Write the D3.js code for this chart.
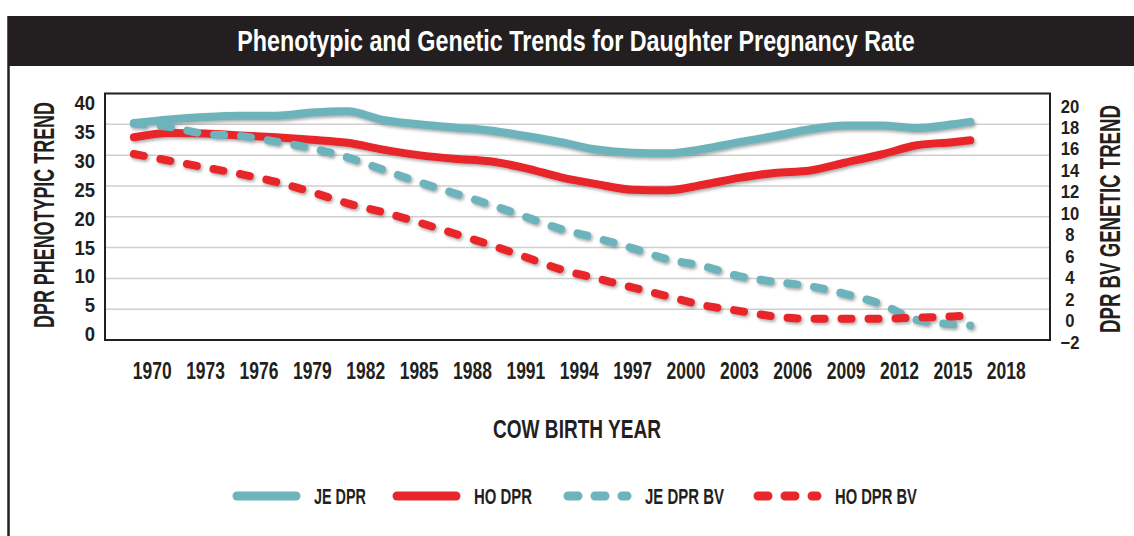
<!DOCTYPE html>
<html>
<head>
<meta charset="utf-8">
<script src="https://cdn.jsdelivr.net/npm/d3@7"></script>
<style>
  html, body { margin: 0; padding: 0; background: #ffffff; }
  svg { display: block; }
  text { font-family: "Liberation Sans", Arial, sans-serif; font-weight: bold; fill: #231f20; }
</style>
</head>
<body>
<svg id="chart" width="1134" height="536"></svg>
<script>
// ---------- DATA ----------
const years = [1969, 1971, 1973, 1975, 1977, 1979, 1981, 1983, 1985, 1987, 1989, 1991, 1993,
               1995, 1997, 1999, 2001, 2003, 2005, 2007, 2009, 2011, 2013, 2015, 2016];
const jeDPR = [35.2, 35.8, 36.2, 36.4, 36.4, 36.9, 37.1, 35.7, 35.0, 34.5, 34.0, 33.1, 32.1,
               30.9, 30.4, 30.3, 31.0, 32.1, 33.1, 34.2, 34.8, 34.8, 34.4, 35.0, 35.4];
const hoDPR = [32.9, 33.6, 33.5, 33.2, 32.9, 32.5, 32.0, 30.9, 30.0, 29.4, 29.0, 27.9, 26.4,
               25.3, 24.4, 24.3, 25.2, 26.3, 27.1, 27.5, 28.8, 30.1, 31.6, 32.1, 32.4];
const jeDPRBV = [17.3, 17.0, 16.4, 16.2, 15.7, 15.1, 14.3, 13.2, 12.1, 11.1, 10.1, 9.0, 7.9,
                 7.1, 6.2, 5.2, 4.6, 3.7, 3.2, 2.8, 2.1, 1.2, -0.2, -0.6, -0.7];
const hoDPRBV = [14.6, 14.0, 13.4, 12.8, 12.1, 11.2, 10.2, 9.4, 8.5, 7.5, 6.5, 5.4, 4.3,
                 3.5, 2.7, 1.9, 1.1, 0.6, 0.1, -0.1, -0.1, -0.1, 0.0, 0.1, 0.2];

const xTickLabels = [1970, 1973, 1976, 1979, 1982, 1985, 1988, 1991, 1994, 1997, 2000, 2003, 2006, 2009, 2012, 2015, 2018];
const leftTicks = [0, 5, 10, 15, 20, 25, 30, 35, 40];
const rightTicks = [-2, 0, 2, 4, 6, 8, 10, 12, 14, 16, 18, 20];

const seriesNames = ["JE DPR", "HO DPR", "JE DPR BV", "HO DPR BV"];
const seriesValues = [jeDPR, hoDPR, jeDPRBV, hoDPRBV];
const seriesAxis = ["left", "left", "right", "right"];
const seriesColors = ["#6db3bb", "#e8262b", "#6db3bb", "#e8262b"];
const seriesDashed = [false, false, true, true];

const titleText = "Phenotypic and Genetic Trends for Daughter Pregnancy Rate";
const leftTitle = "DPR PHENOTYPIC TREND";
const rightTitle = "DPR BV GENETIC TREND";
const xTitle = "COW BIRTH YEAR";

// ---------- LAYOUT ----------
const svg = d3.select("#chart");
const W = 1134, H = 536;
const box = { left: 105, right: 1050, top: 93.5, bottom: 340 };

const x = d3.scaleLinear().domain([1970, 2018]).range([151.7, 1005.8]);
const yL = d3.scaleLinear().domain([0, 40]).range([box.bottom, box.top]);
const yR = d3.scaleLinear().domain([-2, 20]).range([box.bottom, box.top]);
// tick-label placement scales (labels in the reference are slightly inset)
const yLlab = d3.scaleLinear().domain([0, 40]).range([334, 103]);
const yRlab = d3.scaleLinear().domain([-2, 20]).range([341.5, 105.4]);

// horizontal condensing helpers (reference uses a condensed face)
function squeeze(sel, s) {
  sel.each(function () {
    const t = d3.select(this);
    const ax = +t.attr("x") || 0;
    t.attr("transform", `translate(${ax},0) scale(${s},1) translate(${-ax},0)`);
  });
}
function fitWidth(sel, w) {
  sel.each(function () {
    const len = this.getComputedTextLength();
    squeeze(d3.select(this), w / len);
  });
}

// defs: drop shadow
const defs = svg.append("defs");
const f = defs.append("filter").attr("id", "shadow")
  .attr("x", "-5%").attr("y", "-20%").attr("width", "110%").attr("height", "140%");
f.append("feDropShadow").attr("dx", 1.5).attr("dy", 2).attr("stdDeviation", 1.4)
  .attr("flood-color", "#444").attr("flood-opacity", 0.45);

// background
svg.append("rect").attr("width", W).attr("height", H).attr("fill", "#ffffff");

// Title bar
svg.append("rect").attr("x", 8).attr("y", 16).attr("width", W - 8).attr("height", 50).attr("fill", "#231f20");
const tt = svg.append("text").attr("x", 576).attr("y", 51).attr("text-anchor", "middle")
  .attr("font-size", 29).style("fill", "#ffffff").text(titleText);
fitWidth(tt, 678);

// frame left border
svg.append("line").attr("x1", 8.5).attr("x2", 8.5).attr("y1", 16).attr("y2", H)
  .attr("stroke", "#231f20").attr("stroke-width", 2.5);

// gridlines
svg.append("g").selectAll("line").data(leftTicks.filter(d => d > 0 && d < 40)).join("line")
  .attr("x1", box.left).attr("x2", box.right)
  .attr("y1", d => yL(d)).attr("y2", d => yL(d))
  .attr("stroke", "#d0cfcf").attr("stroke-width", 1.5);

// plot box
svg.append("rect").attr("x", box.left).attr("y", box.top)
  .attr("width", box.right - box.left).attr("height", box.bottom - box.top)
  .attr("fill", "none").attr("stroke", "#231f20").attr("stroke-width", 2);

// Axes
const xAxis = svg.append("g").attr("transform", `translate(0,${box.bottom})`)
  .call(d3.axisBottom(x).tickValues(xTickLabels).tickFormat(d3.format("d")).tickSize(0).tickPadding(23));
xAxis.select(".domain").remove();
xAxis.selectAll("text").attr("font-size", 23).attr("font-family", null).style("fill", "#231f20");
squeeze(xAxis.selectAll("text"), 0.76);

const lAxis = svg.append("g").attr("transform", `translate(${box.left},0)`)
  .call(d3.axisLeft(yLlab).tickValues(leftTicks).tickSize(0).tickPadding(10));
lAxis.select(".domain").remove();
lAxis.selectAll("text").attr("font-size", 21).attr("font-family", null).style("fill", "#231f20");
squeeze(lAxis.selectAll("text"), 0.88);

const rAxis = svg.append("g").attr("transform", `translate(1070,0)`)
  .call(d3.axisRight(yRlab).tickValues(rightTicks).tickSize(0).tickPadding(0));
rAxis.select(".domain").remove();
rAxis.selectAll("text").attr("font-size", 18.5).attr("font-family", null)
  .attr("text-anchor", "middle").attr("x", 0).attr("dy", "0.36em").style("fill", "#231f20");
squeeze(rAxis.selectAll("text"), 0.9);

// Axis titles
const lt = svg.append("g").attr("transform", "translate(53.5,215) rotate(-90)")
  .append("text").attr("x", 0).attr("y", 0).attr("text-anchor", "middle").attr("font-size", 29).text(leftTitle);
fitWidth(lt, 226);
const rt = svg.append("g").attr("transform", "translate(1120,219) rotate(-90)")
  .append("text").attr("x", 0).attr("y", 0).attr("text-anchor", "middle").attr("font-size", 29).text(rightTitle);
fitWidth(rt, 228);
const xt = svg.append("text").attr("x", 577).attr("y", 438).attr("text-anchor", "middle")
  .attr("font-size", 25).text(xTitle);
fitWidth(xt, 168);

// Lines
const dash = "10,17";
const series = seriesNames.map((name, i) => ({
  name, color: seriesColors[i], dashed: seriesDashed[i],
  y: seriesAxis[i] === "left" ? yL : yR,
  pts: years.map((yr, j) => ({ yr, v: seriesValues[i][j] }))
}));

const gLines = svg.append("g").attr("filter", "url(#shadow)");
series.forEach(s => {
  const line = d3.line().x(d => x(d.yr)).y(d => s.y(d.v)).curve(d3.curveMonotoneX);
  gLines.append("path").datum(s.pts).attr("d", line)
    .attr("fill", "none").attr("stroke", s.color).attr("stroke-width", 8)
    .attr("stroke-linecap", "round").attr("stroke-linejoin", "round")
    .attr("stroke-dasharray", s.dashed ? dash : null);
});

// Legend
const legX = [237, 397, 568, 758];
const legTextLen = [52, 58, 79, 82];
const legY = 496;
const gLeg = svg.append("g");
series.forEach((s, i) => {
  gLeg.append("line").attr("x1", legX[i]).attr("x2", legX[i] + 59)
    .attr("y1", legY).attr("y2", legY)
    .attr("stroke", s.color).attr("stroke-width", 9).attr("stroke-linecap", "round")
    .attr("stroke-dasharray", s.dashed ? dash : null);
  const t = gLeg.append("text").attr("x", legX[i] + 77).attr("y", legY + 8)
    .attr("font-size", 22).text(s.name);
  fitWidth(t, legTextLen[i]);
});
</script>
</body>
</html>
